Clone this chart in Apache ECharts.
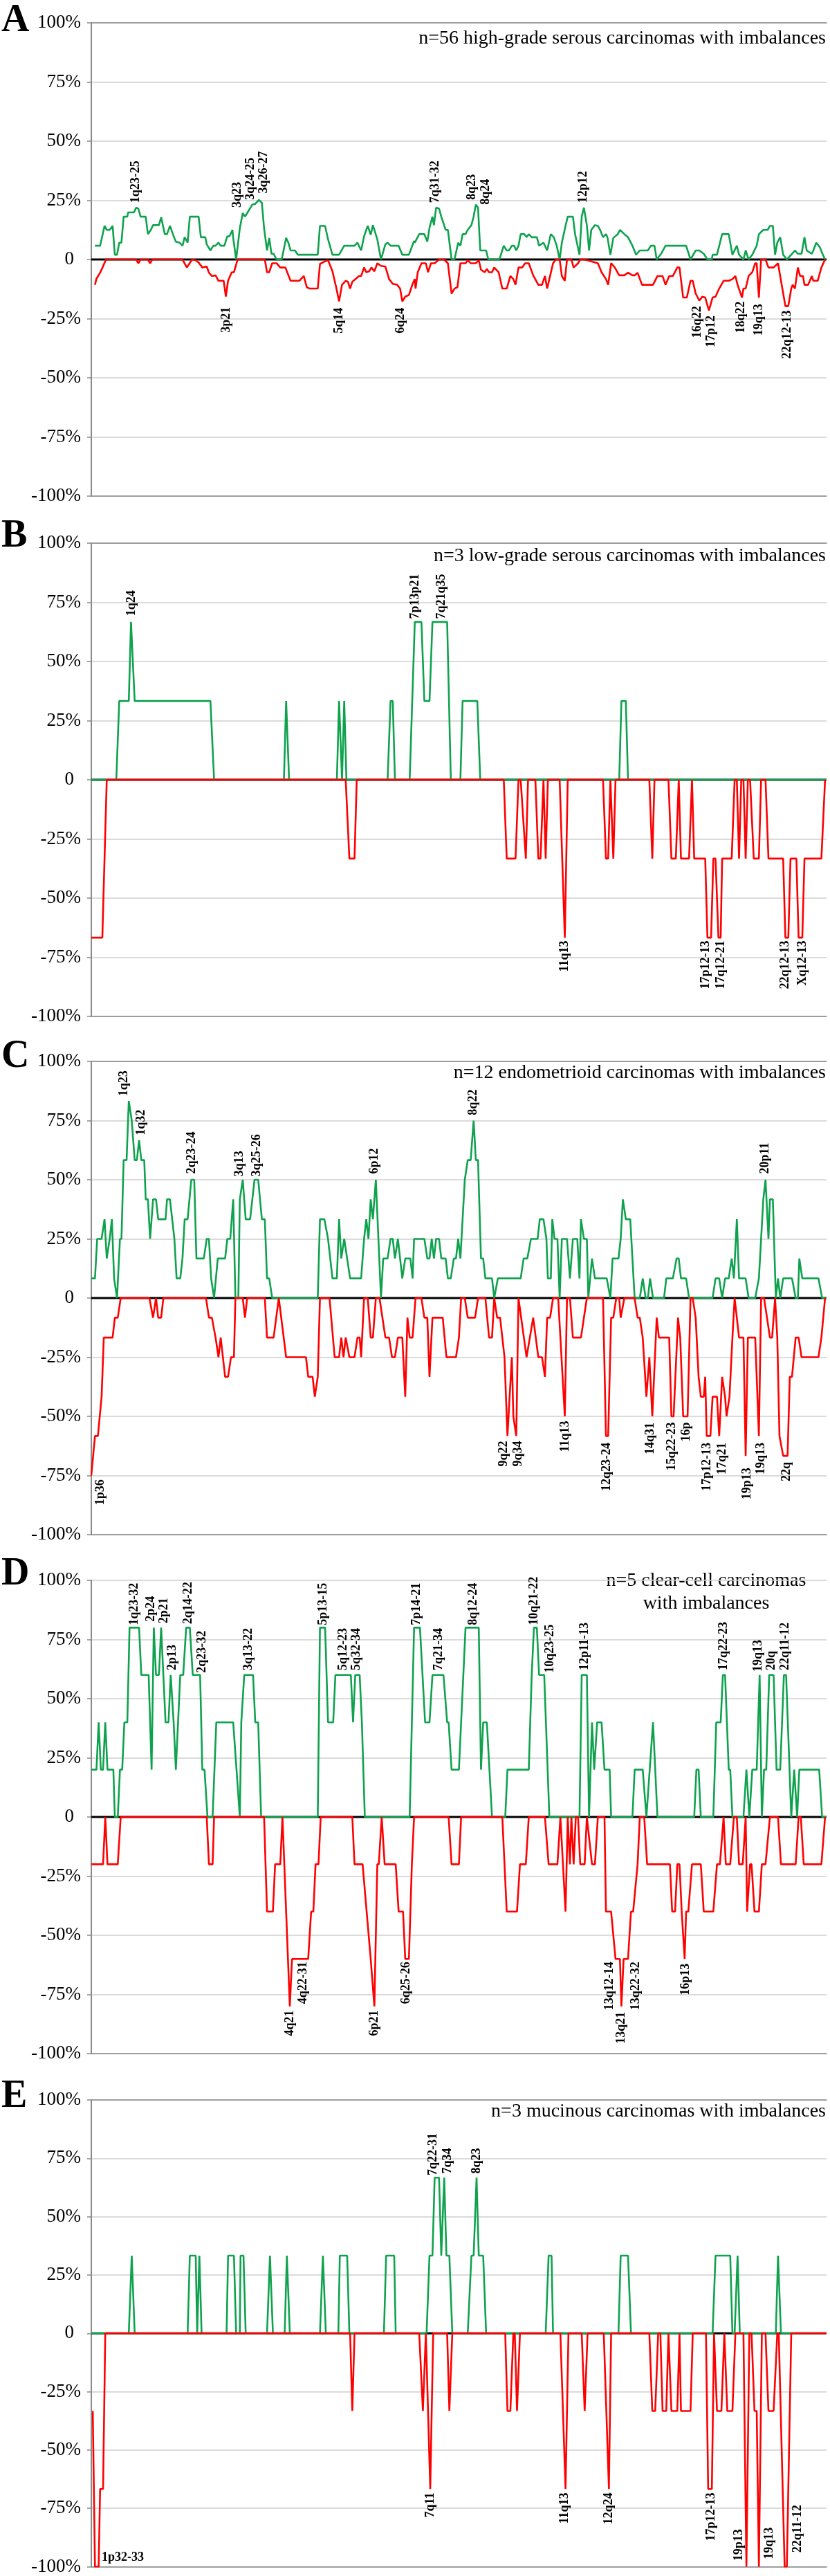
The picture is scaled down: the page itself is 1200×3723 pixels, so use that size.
<!DOCTYPE html>
<html>
<head>
<meta charset="utf-8">
<title>Genomic imbalances by histotype</title>
<script src="https://cdn.jsdelivr.net/npm/echarts@6/dist/echarts.min.js"></script>
<style>
    html, body { margin: 0; padding: 0; background: #fff; }
    #chart { width: 1200px; height: 3723px; }
</style>
</head>
<body>
<div id="chart"></div>
<script>
// x = position along the genome (0 = 1pter ... 1000 = Xqter), y = % of cases (gain > 0, loss < 0)

var panelLetters = ['A', 'B', 'C', 'D', 'E'];
var panelTitles = [
    'n=56 high-grade serous carcinomas with imbalances',
    'n=3 low-grade serous carcinomas with imbalances',
    'n=12 endometrioid carcinomas with imbalances',
    'n=5 clear-cell carcinomas\nwith imbalances',
    'n=3 mucinous carcinomas with imbalances'
];
var yTicks = [-100, -75, -50, -25, 0, 25, 50, 75, 100];
var zeroLine = [[0, 0], [1000, 0]];

// A - high-grade serous
var gainA = [[5,5.8],[12,5.8],[18,14.2],[21,12.5],[25,12.5],[29,14.2],[32,2.0],[35,2.0],[38,7.1],[41,7.1],[44,18.1],[49,18.1],[50,19.9],[58,19.9],[61,21.9],[64,21.5],[67,18.1],[74,18.1],[77,10.7],[81,12.5],[84,14.5],[92,14.5],[95,17.8],[100,10.7],[103,10.7],[107,14.2],[111,10.7],[115,7.5],[120,7.1],[124,5.8],[127,9.4],[131,7.1],[134,18.1],[146,18.1],[149,9.4],[155,9.4],[157,6.4],[162,3.8],[166,5.8],[169,5.8],[173,7.1],[176,5.8],[181,5.8],[185,9.8],[188,9.8],[192,12.5],[193,9.1],[197,0],[202,13.2],[206,19.6],[209,18.1],[212,19.6],[219,23.2],[223,23.5],[228,25.2],[232,23.9],[235,13.2],[239,3.8],[242,9.1],[245,2.4],[248,2.4],[252,0],[259,0],[265,9.1],[268,7.1],[271,3.8],[277,3.8],[281,2.0],[308,2.0],[311,14.2],[318,14.2],[322,8.5],[328,2.0],[337,2.0],[344,5.8],[358,5.8],[362,7.1],[367,3.8],[371,9.8],[376,14.2],[380,10.4],[383,14.5],[389,8.5],[394,0],[400,6.4],[403,7.1],[407,5.8],[418,5.8],[423,2.0],[432,2.0],[439,7.8],
    [440,7.1],[446,10.7],[453,10.7],[457,7.5],[460,13.4],[464,18.1],[466,14.5],[469,21.9],[473,21.5],[476,18.1],[482,12.5],[485,12.5],[490,0],[494,0],[499,7.1],[502,5.8],[505,10.7],[509,10.7],[512,12.5],[517,14.5],[520,18.1],[523,23.2],[526,21.9],[529,3.8],[537,3.8],[540,0],[555,0],[561,5.8],[565,3.8],[568,3.8],[572,5.8],[575,5.8],[578,3.8],[581,5.8],[584,10.7],[589,10.7],[592,9.4],[595,10.7],[599,9.4],[606,9.4],[609,5.8],[615,7.1],[620,3.8],[625,10.7],[629,9.4],[633,5.8],[637,0],[640,7.1],[645,14.2],[648,18.1],[655,18.1],[658,10.7],[664,2.0],[667,18.1],[670,21.9],[674,14.5],[677,3.8],[680,12.5],[685,14.5],[689,14.2],[692,12.5],[696,9.4],[700,10.7],[702,9.4],[706,2.0],[710,9.1],[716,10.7],[719,12.5],[725,10.7],[730,9.4],[736,5.8],[741,2.0],[746,3.8],[757,3.8],[761,5.8],[766,5.8],[769,0],[775,2.4],[781,5.8],[809,5.8],[815,0],[822,3.8],[827,3.8],[833,2.4],[838,0],[844,0],[845,2.0],[851,2.0],[858,10.7],[867,10.7],[872,2.0],[878,5.8],[881,2.0],[887,0],[890,3.8],[894,0],[899,2.0],[905,5.8],[908,10.7],[914,12.5],[920,12.5],[923,14.2],[927,14.2],[930,2.0],[933,7.1],[937,9.4],[941,2.0],[946,0],[952,2.0],[957,3.8],[961,2.4],[966,2.4],[970,9.4],[973,3.8],[980,2.4],[982,3.8],[986,7.1],[991,5.1],[995,2.0],[998,0]];
var lossA = [[5,-10.7],[7,-8.1],[12,-5.6],[15,-3.6],[20,0],[61,0],[64,-1.6],[67,0],[77,0],[80,-1.6],[83,0],[124,0],[130,-3.4],[137,0],[142,-0.3],[146,-1.3],[151,-3.4],[157,-3.0],[160,-5.6],[164,-7.0],[169,-6.7],[173,-9.0],[180,-9.0],[183,-15.7],[186,-9.0],[191,-5.4],[194,-5.4],[199,0],[236,0],[239,-5.4],[242,-5.4],[246,-1.6],[252,-1.6],[257,-3.4],[264,-3.4],[271,-9.0],[283,-9.0],[289,-7.0],[293,-11.7],[297,-12.3],[308,-12.3],[311,-1.9],[317,-0.9],[322,-0.3],[328,-5.0],[333,-11.7],[337,-17.7],[341,-10.7],[346,-9.0],[349,-9.4],[352,-12.3],[355,-9.4],[360,-8.1],[364,-7.0],[367,-7.0],[371,-3.4],[374,-5.4],[378,-5.0],[381,-3.4],[385,-5.0],[389,-1.6],[394,-2.7],[400,-3.0],[405,-8.3],[410,-10.3],[416,-10.7],[420,-12.3],[423,-17.7],[427,-15.7],[432,-15.0],[437,-10.3],[440,-8.3],
    [441,-12.3],[444,-5.4],[449,-1.6],[455,-1.6],[458,-5.4],[462,-1.6],[467,-1.6],[473,0],[480,0],[485,-1.6],[490,-14.4],[494,-12.3],[498,-11.7],[502,-1.6],[509,-1.6],[512,-0.3],[516,-1.6],[523,-1.6],[527,-0.3],[530,-4.3],[535,-5.4],[538,-4.0],[541,-5.4],[545,-5.4],[548,-3.4],[554,-5.4],[559,-12.3],[565,-12.3],[570,-7.0],[574,-8.3],[577,-10.7],[581,-3.4],[586,-3.4],[590,-1.6],[595,-1.6],[601,-6.7],[608,-10.7],[613,-10.7],[617,-7.0],[620,-12.3],[624,-7.0],[628,-1.6],[632,0],[637,0],[640,-7.0],[644,-9.0],[647,0],[653,0],[656,-3.4],[662,-1.6],[665,0],[671,0],[689,-1.6],[694,-5.4],[700,-8.3],[703,-10.7],[707,-1.6],[712,-3.4],[718,-6.7],[725,-6.7],[730,-5.6],[736,-6.7],[739,-6.7],[743,-5.6],[749,-10.7],[764,-10.7],[770,-7.0],[777,-7.0],[781,-10.7],[786,-7.0],[791,-7.0],[797,-3.4],[800,-3.4],[805,-16.1],[810,-16.1],[815,-9.0],[818,-9.0],[822,-14.4],[827,-17.4],[831,-15.7],[835,-16.1],[840,-21.5],[845,-16.1],[849,-15.7],[854,-12.3],[860,-9.0],[867,-9.0],[872,-8.3],[876,-7.0],[879,-10.7],[885,-16.1],[887,-12.3],[890,-12.3],[894,-7.0],[899,-5.4],[903,-1.6],[905,-1.6],[908,-16.1],[911,0],[917,0],[921,-3.4],[928,-3.4],[934,-1.6],[939,-10.7],[944,-19.7],[948,-19.7],[952,-12.3],[954,-10.7],[957,-12.3],[961,-3.4],[964,-7.0],[968,-7.0],[970,-10.7],[975,-10.7],[980,-7.0],[982,-9.0],[988,-9.0],[993,-3.4],[998,0]];
var gainTagsA = [[61,23.9,'1q23-25'],[199,21.9,'3q23'],[217,25.2,'3q24-25'],[235,27.9,'3q26-27'],[468,23.9,'7q31-32'],[518,25.2,'8q23'],[537,23.2,'8q24'],[669,23.9,'12p12']];
var lossTagsA = [[184,-20.1,'3p21'],[337,-20.4,'5q14'],[421,-20.4,'6q24'],[824,-19.7,'16q22'],[843,-23.7,'17p12'],[884,-17.7,'18q22'],[908,-18.8,'19q13'],[947,-21.5,'22q12-13']];

// B - low-grade serous
var gainB = [[0,0],[34,0],[38,33.3],[51,33.3],[54,66.7],[59,33.3],[162,33.3],[167,0],[262,0],[265,33.3],[269,0],[334,0],[337,33.3],[341,0],[344,33.3],[347,0],[403,0],[407,33.3],[410,33.3],[413,0],[433,0],[440,66.7],[449,66.7],[453,33.3],[460,33.3],[464,66.7],[484,66.7],[489,0],[502,0],[505,33.3],[525,33.3],[529,0],[718,0],[721,33.3],[727,33.3],[730,0],[1000,0]];
var lossB = [[0,-66.7],[15,-66.7],[21,0],[346,0],[351,-33.3],[358,-33.3],[361,0],[561,0],[565,-33.3],[577,-33.3],[581,0],[584,0],[591,-33.3],[594,0],[604,0],[608,-33.3],[611,-33.3],[615,0],[618,-33.3],[621,0],[637,0],[644,-66.7],[648,0],[696,0],[700,-33.3],[703,-33.3],[706,0],[710,-33.3],[713,0],[759,0],[763,-33.3],[766,0],[785,0],[789,-33.3],[795,-33.3],[799,0],[802,-33.3],[813,-33.3],[817,0],[820,-33.3],[835,-33.3],[838,-66.7],[843,-66.7],[846,-33.3],[849,-33.3],[853,-66.7],[856,-66.7],[858,-33.3],[871,-33.3],[875,0],[878,0],[881,-33.3],[884,0],[887,0],[890,-33.3],[893,0],[896,0],[901,-33.3],[908,-33.3],[911,0],[917,0],[921,-33.3],[941,-33.3],[944,-66.7],[948,-66.7],[951,-33.3],[959,-33.3],[962,-66.7],[967,-66.7],[970,-33.3],[993,-33.3],[998,0]];
var gainTagsB = [[55,69.2,'1q24'],[441,68,'7p13p21'],[476,68,'7q21q35']];
var lossTagsB = [[644,-68,'11q13'],[836,-68,'17p12-13'],[856,-68,'17q12-21'],[944,-68,'22q12-13'],[967,-68,'Xq12-13']];

// C - endometrioid
var gainC = [[0,8.3],[5,8.3],[8,25],[14,25],[18,33.3],[21,16.7],[25,25],[28,33.3],[31,8.3],[35,0],[39,25],[41,25],[44,58.3],[48,58.3],[51,83.3],[55,75],[59,58.3],[62,58.3],[65,66.7],[68,58.3],[72,58.3],[74,41.7],[77,41.7],[80,25],[84,41.7],[88,41.7],[91,33.3],[101,33.3],[103,41.7],[107,41.7],[113,25],[116,8.3],[121,8.3],[124,16.7],[127,33.3],[131,33.3],[136,50],[140,50],[143,16.7],[153,16.7],[157,25],[160,25],[163,8.3],[167,0],[172,16.7],[182,16.7],[185,25],[189,25],[193,41.7],[196,0],[200,0],[202,41.7],[206,50],[210,33.3],[216,33.3],[222,50],[227,50],[232,33.3],[236,33.3],[239,8.3],[242,8.3],[246,0],[308,0],[311,33.3],[317,33.3],[322,25],[328,8.3],[334,8.3],[337,33.3],[340,16.7],[344,25],[352,8.3],[367,8.3],[371,25],[374,33.3],[377,25],[380,41.7],[383,33.3],[387,50],[394,0],[397,16.7],[403,16.7],[407,25],[410,25],[413,16.7],[417,25],[420,16.7],[423,8.3],[427,16.7],[434,16.7],[437,8.3],[439,25],
    [453,25],[457,16.7],[460,16.7],[463,25],[466,16.7],[469,25],[473,25],[476,16.7],[482,16.7],[485,8.3],[489,8.3],[493,16.7],[496,16.7],[499,25],[502,16.7],[505,33.3],[508,50],[512,58.3],[516,58.3],[520,75],[523,58.3],[526,58.3],[530,16.7],[533,16.7],[536,8.3],[545,8.3],[548,0],[553,8.3],[584,8.3],[588,16.7],[593,16.7],[598,25],[607,25],[610,33.3],[615,33.3],[619,25],[621,8.3],[625,8.3],[627,33.3],[630,25],[634,25],[637,0],[640,25],[647,25],[651,8.3],[655,25],[661,25],[664,8.3],[666,33.3],[670,25],[674,25],[676,0],[681,16.7],[685,8.3],[701,8.3],[706,0],[709,16.7],[717,16.7],[720,25],[723,41.7],[727,33.3],[733,33.3],[739,0],[746,0],[750,8.3],[754,0],[757,0],[760,8.3],[764,0],[779,0],[782,8.3],[791,8.3],[796,16.7],[799,16.7],[802,8.3],[809,8.3],[813,0],[845,0],[849,8.3],[854,8.3],[858,0],[862,8.3],[867,8.3],[871,16.7],[874,8.3],[878,33.3],[881,8.3],[890,8.3],[894,0],[903,0],[908,8.3],[914,41.7],[917,50],[921,25],[923,41.7],[927,41.7],[931,0],[934,8.3],[937,0],[941,8.3],[953,8.3],[958,0],[961,0],[963,16.7],[967,8.3],[989,8.3],[994,0],[1000,0]];
var lossC = [[0,-75],[5,-58.3],[9,-58.3],[14,-41.7],[17,-16.7],[29,-16.7],[32,-8.3],[36,-8.3],[40,0],[79,0],[84,-8.3],[88,0],[91,-8.3],[95,-8.3],[98,0],[156,0],[160,-8.3],[164,-8.3],[169,-16.7],[173,-25],[176,-16.7],[182,-33.3],[186,-33.3],[190,-25],[194,-25],[196,0],[206,0],[209,-8.3],[212,0],[236,0],[239,-16.7],[248,-16.7],[255,0],[265,-25],[292,-25],[295,-33.3],[301,-33.3],[304,-41.7],[308,-33.3],[311,0],[324,0],[331,-25],[337,-25],[340,-16.7],[343,-25],[346,-16.7],[351,-25],[358,-25],[362,-16.7],[365,-16.7],[367,-25],[371,0],[376,0],[380,-16.7],[383,-16.7],[387,0],[392,0],[400,-16.7],[405,-16.7],[409,-25],[413,-25],[417,-16.7],[423,-16.7],[427,-41.7],[430,-8.3],[433,-16.7],[437,-16.7],[441,0],
    [449,0],[453,-8.3],[457,-8.3],[460,-33.3],[464,-8.3],[478,-8.3],[483,-25],[496,-25],[500,-16.7],[503,0],[508,0],[512,-8.3],[522,-8.3],[526,0],[536,0],[541,-16.7],[545,-16.7],[548,0],[552,-8.3],[556,-8.3],[562,-25],[566,-58.3],[572,-25],[574,-50],[578,-58.3],[581,0],[592,-25],[601,-8.3],[608,-25],[613,-25],[617,-33.3],[620,-8.3],[624,-8.3],[628,0],[635,0],[644,-50],[647,0],[651,0],[655,-16.7],[666,-16.7],[674,0],[696,0],[700,-58.3],[703,-58.3],[707,-8.3],[710,-8.3],[714,0],[718,0],[720,-8.3],[725,0],[739,0],[743,-8.3],[746,-8.3],[750,-16.7],[755,-41.7],[759,-25],[763,-50],[769,-8.3],[772,-16.7],[786,-16.7],[789,-50],[792,-50],[798,-8.3],[801,-16.7],[805,-50],[811,-50],[815,0],[818,0],[822,-8.3],[826,-33.3],[829,-41.7],[833,-41.7],[835,-33.3],[837,-58.3],[842,-58.3],[845,-41.7],[851,-41.7],[854,-58.3],[858,-33.3],[862,-41.7],[864,-50],[868,-41.7],[872,-16.7],[875,0],[881,-16.7],[887,-16.7],[890,-66.7],[893,-16.7],[903,-16.7],[908,-58.3],[911,0],[915,0],[919,-8.3],[923,-16.7],[926,-16.7],[930,0],[933,-16.7],[936,-58.3],[941,-66.7],[947,-66.7],[950,-33.3],[953,-33.3],[958,-16.7],[962,-16.7],[966,-25],[989,-25],[993,-16.7],[998,0]];
var gainTagsC = [[45,85.3,'1q23'],[68,68.8,'1q32'],[137,52.5,'2q23-24'],[202,51.4,'3q13'],[225,51.4,'3q25-26'],[385,52.5,'6p12'],[520,77.3,'8q22'],[917,52.5,'20p11']];
var lossTagsC = [[13,-76.7,'1p36'],[561,-60.4,'9q22'],[581,-60.4,'9q34'],[645,-51.9,'11q13'],[701,-61.1,'12q23-24'],[760,-52.6,'14q31'],[790,-52.5,'15q22-23'],[809,-52.5,'16p'],[838,-61.1,'17p12-13'],[858,-61.1,'17q21'],[892,-71.7,'19p13'],[911,-61.1,'19q13'],[946,-69.3,'22q']];

// D - clear-cell
var gainD = [[0,20],[7,20],[10,40],[13,20],[16,20],[19,40],[22,20],[30,20],[32,0],[36,0],[39,20],[42,20],[45,40],[49,40],[52,80],[65,80],[68,60],[78,60],[82,20],[85,80],[88,60],[92,60],[95,80],[101,40],[105,40],[108,60],[112,40],[115,20],[121,60],[125,60],[129,80],[134,80],[138,60],[148,60],[151,20],[154,20],[158,0],[165,0],[170,40],[193,40],[202,0],[204,40],[208,60],[220,60],[223,40],[227,40],[231,0],[308,0],[311,80],[318,80],[322,40],[329,40],[332,60],[353,60],[356,40],[359,60],[365,60],[368,40],[372,0],[433,0],[439,80],
    [447,80],[454,40],[460,40],[464,60],[479,60],[484,40],[486,40],[490,20],[500,20],[509,80],[527,80],[530,20],[533,40],[538,40],[545,0],[563,0],[566,20],[595,20],[599,60],[602,80],[606,80],[609,60],[616,60],[623,0],[664,0],[667,60],[674,60],[677,0],[681,40],[684,20],[688,40],[694,40],[698,20],[705,20],[707,0],[736,0],[739,20],[750,20],[755,0],[764,40],[770,0],[820,0],[823,20],[826,20],[829,0],[846,0],[850,40],[856,40],[859,60],[862,60],[867,20],[869,20],[872,0],[887,0],[891,20],[895,0],[899,20],[905,20],[909,60],[912,0],[915,20],[918,20],[922,60],[928,60],[932,20],[937,20],[942,60],[945,60],[952,0],[956,20],[960,0],[963,20],[990,20],[994,0],[1000,0]];
var lossD = [[0,-20],[16,-20],[19,0],[22,-20],[36,-20],[40,0],[157,0],[160,-20],[165,-20],[167,0],[235,0],[239,-40],[247,-40],[250,-20],[257,-20],[260,0],[270,-80],[273,-60],[295,-60],[299,-40],[302,-40],[305,-20],[309,-20],[312,0],[355,0],[358,-20],[369,-20],[380,-60],[385,-80],[389,-20],[391,-20],[395,0],[399,-20],[414,-20],[418,-40],[424,-40],[427,-60],[432,-60],[436,-20],[439,0],
    [486,0],[490,-20],[500,-20],[503,0],[559,0],[565,-40],[579,-40],[583,-20],[591,-20],[595,0],[617,0],[622,-20],[634,-20],[638,0],[645,-40],[648,0],[651,-20],[653,0],[656,-20],[659,0],[662,0],[665,-20],[671,-20],[674,0],[681,-20],[685,-20],[689,0],[698,0],[700,-40],[707,-40],[713,-60],[719,-60],[721,-80],[724,-60],[730,-60],[734,-40],[737,-40],[743,-20],[746,0],[752,0],[756,-20],[787,-20],[790,-40],[794,-40],[797,-20],[800,-20],[803,-40],[807,-60],[809,-40],[812,-40],[817,-20],[829,-20],[833,-40],[846,-40],[851,-20],[855,-20],[860,0],[863,-20],[869,-20],[874,0],[878,0],[881,-20],[886,-20],[890,0],[892,-40],[896,-20],[898,-20],[902,-40],[908,-40],[912,-20],[917,-20],[923,0],[934,0],[938,-20],[958,-20],[962,0],[965,0],[969,-20],[993,-20],[998,0]];
var gainTagsD = [[59,81.1,'1q23-32'],[81,82.5,'2p24'],[99,81.8,'2p21'],[110,62,'2p13'],[132,81.5,'2q14-22'],[151,60.9,'2q23-32'],[214,62,'3q13-22'],[315,81.1,'5p13-15'],[343,62,'5q12-23'],[361,62,'5q32-34'],[442,81.1,'7p14-21'],[473,62,'7q21-34'],[520,81.1,'8q12-24'],[602,81.1,'10q21-22'],[624,60.9,'10q23-25'],[671,62,'12p11-13'],[860,62,'17q22-23'],[907,61.4,'19q13'],[925,62,'20q'],[944,62,'22q11-12']];
var lossTagsD = [[270,-81.7,'4q21'],[288,-61.2,'4q22-31'],[385,-81.7,'6p21'],[428,-61.2,'6q25-26'],[705,-61.2,'13q12-14'],[721,-82.4,'13q21'],[741,-61.2,'13q22-32'],[808,-61.9,'16p13']];

// E - mucinous
var gainE = [[0,0],[51,0],[55,33.3],[59,0],[131,0],[134,33.3],[142,33.3],[144,0],[147,33.3],[150,0],[184,0],[186,33.3],[194,33.3],[197,0],[202,0],[203,33.3],[207,33.3],[210,0],[239,0],[243,33.3],[247,0],[263,0],[266,33.3],[270,0],[311,0],[315,33.3],[319,0],[336,0],[338,33.3],[348,33.3],[351,0],[398,0],[401,33.3],[412,33.3],[414,0],
    [456,0],[460,33.3],[464,33.3],[467,66.7],[473,66.7],[476,33.3],[480,66.7],[483,33.3],[487,33.3],[491,0],[512,0],[517,33.3],[520,33.3],[524,66.7],[527,33.3],[533,33.3],[537,0],[618,0],[622,33.3],[626,33.3],[628,0],[717,0],[720,33.3],[730,33.3],[734,0],[845,0],[849,33.3],[869,33.3],[872,0],[875,0],[879,33.3],[882,0],[931,0],[934,33.3],[938,0],[1000,0]];
var lossE = [[2,-33.3],[5,-100],[10,-100],[12,-66.7],[16,-66.7],[19,0],[352,0],[355,-33.3],[358,0],
    [446,0],[451,-33.3],[455,0],[461,-66.7],[465,0],[484,0],[487,-33.3],[491,0],[563,0],[566,-33.3],[570,-33.3],[574,0],[576,0],[579,-33.3],[583,0],[638,0],[645,-66.7],[649,0],[667,0],[671,-33.3],[675,0],[697,0],[704,-66.7],[707,0],[759,0],[763,-33.3],[767,-33.3],[771,0],[774,0],[777,-33.3],[782,-33.3],[785,0],[789,-33.3],[797,-33.3],[800,0],[802,-33.3],[815,-33.3],[818,0],[836,0],[839,-66.7],[844,-66.7],[847,0],[851,-33.3],[857,-33.3],[861,0],[865,-33.3],[872,-33.3],[876,0],[887,0],[891,-100],[895,0],[898,0],[902,-33.3],[905,-33.3],[908,-100],[912,0],[917,0],[921,-33.3],[928,-33.3],[933,0],[935,0],[943,-100],[946,-100],[952,0],[1000,0]];
var gainTagsE = [[465,67.7,'7q22-31'],[485,68.4,'7q34'],[524,68.4,'8q23']];
var lossTagsE = [[461,-68.3,'7q11'],[644,-68.3,'11q13'],[704,-68.3,'12q24'],[843,-68.3,'17p12-13'],[881,-83.9,'19p13'],[922,-83.2,'19q13'],[961,-73.5,'22q11-12']];
var flatTagsE = [[14,-96.2,'1p32-33']];

var panels = [
    {gain: gainA, loss: lossA, up: gainTagsA, down: lossTagsA, flat: [], top: 33, topLine: true},
    {gain: gainB, loss: lossB, up: gainTagsB, down: lossTagsB, flat: [], top: 785, topLine: true},
    {gain: gainC, loss: lossC, up: gainTagsC, down: lossTagsC, flat: [], top: 1534, topLine: true},
    {gain: gainD, loss: lossD, up: gainTagsD, down: lossTagsD, flat: [], top: 2284, topLine: false},
    {gain: gainE, loss: lossE, up: gainTagsE, down: lossTagsE, flat: flatTagsE, top: 3035, topLine: true}
];

var serif = '"Liberation Serif", "Times New Roman", serif';
var gainColor = '#0fa24e';
var lossColor = '#ff0000';
var frameColor = '#8a8a8a';

// rotated cytoband tags, placed through the axis scales
function tagSeries(idx, list, dir) {
    return {
        type: 'custom',
        xAxisIndex: idx * 2,
        yAxisIndex: idx,
        silent: true,
        z: 10,
        data: list.map(function (d) { return [d[0], d[1]]; }),
        renderItem: function (params, api) {
            var pt = api.coord([api.value(0), api.value(1)]);
            var align = dir === 'down' ? 'right' : 'left';
            return {
                type: 'text',
                x: pt[0],
                y: pt[1],
                rotation: dir === 'flat' ? 0 : Math.PI / 2,
                style: {
                    text: list[params.dataIndex][2],
                    font: 'bold 18px ' + serif,
                    fill: '#000',
                    align: align,
                    textAlign: align,
                    verticalAlign: 'middle',
                    textVerticalAlign: 'middle'
                }
            };
        }
    };
}

var grids = [], xAxes = [], yAxes = [], series = [];
panels.forEach(function (p, i) {
    grids.push({left: 132, right: 5, top: p.top, height: 684});
    xAxes.push({
        gridIndex: i, type: 'value', min: 0, max: 1000, position: 'bottom',
        axisLine: {onZero: false, lineStyle: {color: frameColor, width: 1.5}},
        axisTick: {show: false}, axisLabel: {show: false}, splitLine: {show: false}
    });
    xAxes.push({
        gridIndex: i, type: 'value', min: 0, max: 1000, position: 'top',
        axisLine: {show: p.topLine, onZero: false, lineStyle: {color: frameColor, width: 1.5}},
        axisTick: {show: false}, axisLabel: {show: false}, splitLine: {show: false}
    });
    yAxes.push({
        gridIndex: i, type: 'value', min: yTicks[0], max: yTicks[yTicks.length - 1], interval: 25,
        axisLine: {show: true, lineStyle: {color: frameColor, width: 2}},
        axisTick: {show: true, length: 6, lineStyle: {color: frameColor, width: 1.5}},
        axisLabel: {
            margin: 15, color: '#000', fontFamily: serif, fontSize: 27,
            formatter: function (v) { return v === 0 ? '{z|0}' : v + '%'; },
            rich: {z: {fontFamily: serif, fontSize: 27, color: '#000', padding: [0, 10, 0, 0]}}
        },
        splitLine: {lineStyle: {color: '#cfcfcf', width: 1.5}}
    });
    series.push({
        type: 'line', xAxisIndex: i * 2, yAxisIndex: i, data: zeroLine, z: 1, silent: true,
        symbol: 'none', lineStyle: {color: '#000', width: 3}
    });
    series.push({
        name: 'gain', type: 'line', xAxisIndex: i * 2, yAxisIndex: i, data: p.gain, z: 3, silent: true,
        symbol: 'none', lineStyle: {color: gainColor, width: 2.6}
    });
    series.push({
        name: 'loss', type: 'line', xAxisIndex: i * 2, yAxisIndex: i, data: p.loss, z: 4, silent: true,
        symbol: 'none', lineStyle: {color: lossColor, width: 2.6}
    });
    series.push(tagSeries(i, p.up, 'up'));
    series.push(tagSeries(i, p.down, 'down'));
    if (p.flat.length) {
        series.push(tagSeries(i, p.flat, 'flat'));
    }
});

// panel letters and headings
var letterY = [31, 776, 1528, 2276, 3031];
var graphics = [];
panels.forEach(function (p, i) {
    graphics.push({
        type: 'text', x: 2, y: letterY[i], silent: true,
        style: {text: panelLetters[i], font: 'bold 56px ' + serif, fill: '#000', align: 'left', textAlign: 'left', verticalAlign: 'middle', textVerticalAlign: 'middle'}
    });
});
[[0, 55.5], [1, 803.5], [2, 1551], [4, 3051.5]].forEach(function (t) {
    graphics.push({
        type: 'text', x: 1194, y: t[1], silent: true,
        style: {text: panelTitles[t[0]], font: '28px ' + serif, fill: '#000', align: 'right', textAlign: 'right', verticalAlign: 'middle', textVerticalAlign: 'middle'}
    });
});
panelTitles[3].split('\n').forEach(function (line, k) {
    graphics.push({
        type: 'text', x: 1021, y: 2285 + k * 33, silent: true,
        style: {text: line, font: '28px ' + serif, fill: '#000', align: 'center', textAlign: 'center', verticalAlign: 'middle', textVerticalAlign: 'middle'}
    });
});

var chart = echarts.init(document.getElementById('chart'), null, {renderer: 'canvas'});
chart.setOption({
    animation: false,
    backgroundColor: '#fff',
    grid: grids,
    xAxis: xAxes,
    yAxis: yAxes,
    series: series,
    graphic: graphics
});
</script>
</body>
</html>
